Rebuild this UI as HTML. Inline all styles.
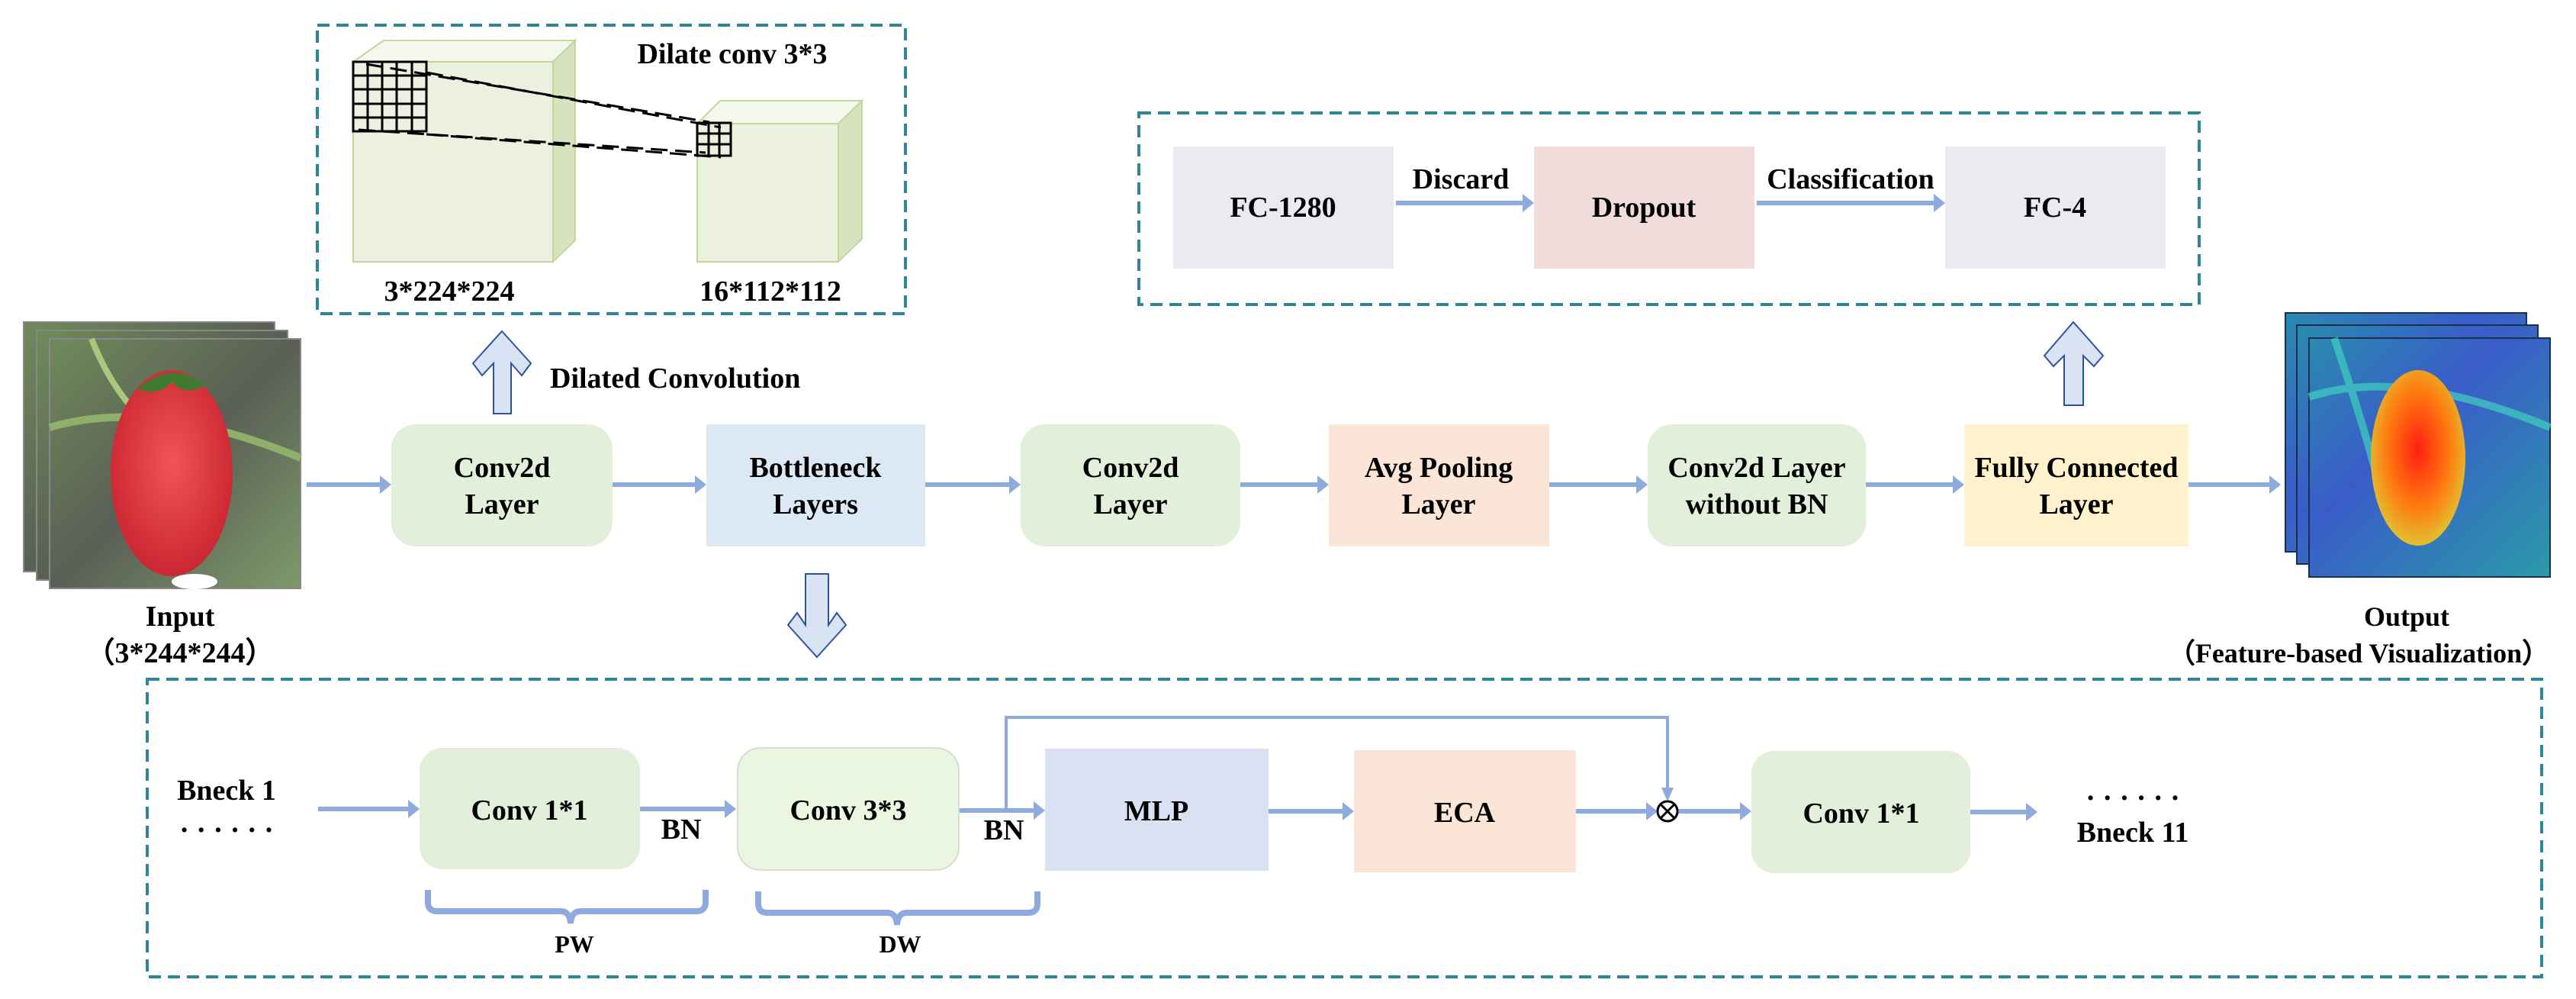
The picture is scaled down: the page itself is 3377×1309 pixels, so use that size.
<!DOCTYPE html>
<html><head><meta charset="utf-8"><style>
html,body{margin:0;padding:0;background:#fff}
svg{display:block}
text{font-family:"Liberation Serif",serif;font-weight:bold;fill:#000}
</style></head><body>
<svg width="3377" height="1309" viewBox="0 0 3377 1309" xmlns="http://www.w3.org/2000/svg">
<defs>
<linearGradient id="bg1" x1="0" y1="0" x2="1" y2="1"><stop offset="0" stop-color="#6f8a5a"/><stop offset="0.5" stop-color="#5a5f55"/><stop offset="1" stop-color="#7d9a6a"/></linearGradient>
<radialGradient id="sb" cx="0.5" cy="0.45" r="0.6"><stop offset="0" stop-color="#f0545a"/><stop offset="1" stop-color="#c8222e"/></radialGradient>
<linearGradient id="hb" x1="0" y1="0" x2="1" y2="1"><stop offset="0" stop-color="#2a8ab0"/><stop offset="0.4" stop-color="#3a5cc8"/><stop offset="1" stop-color="#2a9aa8"/></linearGradient>
<radialGradient id="hs" cx="0.5" cy="0.45" r="0.55"><stop offset="0" stop-color="#ff2010"/><stop offset="0.6" stop-color="#ff7a10"/><stop offset="1" stop-color="#e0c030"/></radialGradient>
</defs>

<g fill="none" stroke="#2e8596" stroke-width="4" stroke-dasharray="16,9">
<rect x="416" y="33" width="771" height="378"/>
<rect x="1493" y="148" width="1390" height="251"/>
<rect x="193" y="890" width="3139" height="390"/>
</g>

<!-- cubes -->
<g stroke="#c4d79b" stroke-width="2">
<polygon points="463,81 503,53 754,53 725,81" fill="#f3f7ec"/>
<polygon points="725,81 754,53 754,315 725,343" fill="#d6e3be"/>
<rect x="463" y="81" width="262" height="262" fill="#ebf1de"/>
<polygon points="914,162 944,132 1130,132 1099,162" fill="#f3f7ec"/>
<polygon points="1099,162 1130,132 1130,313 1099,343" fill="#d6e3be"/>
<rect x="914" y="162" width="185" height="181" fill="#ebf1de"/>
</g>
<g stroke="#000" stroke-width="3" fill="none">
<rect x="463" y="81" width="96" height="91"/>
<path d="M482 81V172M501 81V172M520 81V172M540 81V172M463 99H559M463 117H559M463 136H559M463 154H559"/>
<rect x="914" y="161" width="44" height="43"/>
<path d="M929 161V204M943 161V204M914 175H958M914 189H958"/>
</g>
<g stroke="#000" stroke-width="3" stroke-dasharray="22,10" fill="none">
<line x1="480" y1="84" x2="930" y2="160"/>
<line x1="559" y1="95" x2="945" y2="167"/>
<line x1="470" y1="170" x2="925" y2="200"/>
<line x1="559" y1="176" x2="945" y2="206"/>
</g>
<text x="960" y="83" font-size="38" text-anchor="middle">Dilate conv 3*3</text>
<text x="589" y="394" font-size="38" text-anchor="middle">3*224*224</text>
<text x="1010" y="394" font-size="38" text-anchor="middle">16*112*112</text>

<!-- block arrows -->
<g fill="#dae3f3" stroke="#2f52a0" stroke-width="2">
<polygon points="658,434 696,476 684,492 670,476 670,542 647,542 647,476 632,492 620,476"/>
<polygon points="1071,861 1109,819 1097,803 1086,819 1086,752 1056,752 1056,819 1045,803 1033,819"/>
<polygon points="2718,422 2757,466 2745,480 2731,466 2731,531 2706,531 2706,466 2692,480 2680,466"/>
</g>
<text x="721" y="508" font-size="38">Dilated Convolution</text>

<!-- input images -->
<g stroke="#888" stroke-width="2">
<rect x="31" y="422" width="329" height="327" fill="url(#bg1)"/>
<rect x="48" y="433" width="329" height="327" fill="url(#bg1)"/>
<rect x="65" y="444" width="329" height="327" fill="url(#bg1)"/>
</g>
<path d="M65 560 Q200 520 394 600" stroke="#8fb06a" stroke-width="10" fill="none"/>
<path d="M120 444 Q150 520 200 560" stroke="#a8c880" stroke-width="8" fill="none"/>
<ellipse cx="225" cy="620" rx="80" ry="135" fill="url(#sb)"/>
<path d="M180 510 Q225 470 270 505 Q240 520 225 500 Q210 520 180 510Z" fill="#3f7a30"/>
<ellipse cx="255" cy="762" rx="30" ry="10" fill="#fff"/>
<text x="236" y="820" font-size="38" text-anchor="middle">Input</text>
<text x="236" y="868" font-size="38" text-anchor="middle">（3*244*244）</text>

<!-- main row -->
<rect x="513" y="556" width="290" height="160" rx="32" fill="#e2efda"/>
<rect x="926" y="556" width="287" height="160" fill="#dde8f5"/>
<rect x="1338" y="556" width="288" height="160" rx="32" fill="#e2efda"/>
<rect x="1742" y="556" width="289" height="160" fill="#fbe5d6"/>
<rect x="2160" y="556" width="286" height="160" rx="32" fill="#e2efda"/>
<rect x="2575" y="556" width="294" height="160" fill="#fff2cc"/>
<g font-size="38" text-anchor="middle">
<text x="658" y="625">Conv2d</text><text x="658" y="673">Layer</text>
<text x="1069" y="625">Bottleneck</text><text x="1069" y="673">Layers</text>
<text x="1482" y="625">Conv2d</text><text x="1482" y="673">Layer</text>
<text x="1886" y="625">Avg Pooling</text><text x="1886" y="673">Layer</text>
<text x="2303" y="625">Conv2d Layer</text><text x="2303" y="673">without BN</text>
<text x="2722" y="625">Fully Connected</text><text x="2722" y="673">Layer</text>
</g>

<!-- FC box -->
<rect x="1538" y="192" width="289" height="160" fill="#eceaf1"/>
<rect x="2011" y="192" width="289" height="160" fill="#f0dcdb"/>
<rect x="2550" y="192" width="289" height="160" fill="#eceaf1"/>
<g font-size="38" text-anchor="middle">
<text x="1682" y="284">FC-1280</text>
<text x="2155" y="284">Dropout</text>
<text x="2694" y="284">FC-4</text>
<text x="1915" y="247">Discard</text>
<text x="2426" y="247">Classification</text>
</g>

<!-- thin arrows -->
<g stroke="#8faadc" stroke-width="6" fill="none">
<line x1="402" y1="635" x2="500" y2="635"/>
<line x1="803" y1="635" x2="913" y2="635"/>
<line x1="1213" y1="635" x2="1325" y2="635"/>
<line x1="1626" y1="635" x2="1729" y2="635"/>
<line x1="2031" y1="635" x2="2147" y2="635"/>
<line x1="2446" y1="635" x2="2562" y2="635"/>
<line x1="2869" y1="635" x2="2978" y2="635"/>
<line x1="1830" y1="266" x2="1998" y2="266"/>
<line x1="2303" y1="266" x2="2537" y2="266"/>
<line x1="417" y1="1060" x2="537" y2="1060"/>
<line x1="839" y1="1060" x2="952" y2="1060"/>
<line x1="1257" y1="1062" x2="1357" y2="1062"/>
<line x1="1663" y1="1063" x2="1762" y2="1063"/>
<line x1="2066" y1="1063" x2="2160" y2="1063"/>
<line x1="2199" y1="1063" x2="2283" y2="1063"/>
<line x1="2583" y1="1064" x2="2658" y2="1064"/>
</g>
<g stroke="#8faadc" stroke-width="4" fill="none">
<polyline points="1319,1062 1319,940 2186,940 2186,1035"/>
</g>
<g fill="#8faadc">
<polygon points="513,635 498,623 498,647"/>
<polygon points="926,635 911,623 911,647"/>
<polygon points="1338,635 1323,623 1323,647"/>
<polygon points="1742,635 1727,623 1727,647"/>
<polygon points="2160,635 2145,623 2145,647"/>
<polygon points="2575,635 2560,623 2560,647"/>
<polygon points="2990,635 2975,623 2975,647"/>
<polygon points="2011,266 1996,254 1996,278"/>
<polygon points="2550,266 2535,254 2535,278"/>
<polygon points="550,1060 535,1048 535,1072"/>
<polygon points="965,1060 950,1048 950,1072"/>
<polygon points="1370,1062 1355,1050 1355,1074"/>
<polygon points="1775,1063 1760,1051 1760,1075"/>
<polygon points="2173,1063 2158,1051 2158,1075"/>
<polygon points="2296,1063 2281,1051 2281,1075"/>
<polygon points="2671,1064 2656,1052 2656,1076"/>
<polygon points="2186,1050 2178,1032 2194,1032"/>
</g>

<!-- output images -->
<g stroke="#1a3050" stroke-width="2">
<rect x="2996" y="410" width="316" height="313" fill="url(#hb)"/>
<rect x="3011" y="426" width="316" height="313" fill="url(#hb)"/>
<rect x="3027" y="443" width="316" height="313" fill="url(#hb)"/>
</g>
<path d="M3027 520 Q3150 480 3343 560 M3060 443 Q3100 560 3120 640" stroke="#40d0c0" stroke-width="10" fill="none" opacity="0.7"/>
<ellipse cx="3170" cy="600" rx="62" ry="115" fill="url(#hs)"/>
<text x="3155" y="820" font-size="36" text-anchor="middle">Output</text>
<text x="3092" y="868" font-size="36" text-anchor="middle">（Feature-based Visualization）</text>

<!-- bottleneck detail -->
<rect x="550" y="980" width="289" height="159" rx="30" fill="#e2efda"/>
<rect x="967" y="980" width="290" height="160" rx="30" fill="#ebf6e1" stroke="#d8dcd0" stroke-width="2"/>
<rect x="1370" y="981" width="293" height="160" fill="#dae1f3"/>
<rect x="1775" y="983" width="291" height="160" fill="#fbe5d6"/>
<rect x="2296" y="984" width="287" height="160" rx="30" fill="#e2efda"/>
<g font-size="38" text-anchor="middle">
<text x="297" y="1048">Bneck 1</text>
<text x="297" y="1100">· · · · · ·</text>
<text x="694" y="1074">Conv 1*1</text>
<text x="1112" y="1074">Conv 3*3</text>
<text x="893" y="1099">BN</text>
<text x="1316" y="1100">BN</text>
<text x="1516" y="1075">MLP</text>
<text x="1920" y="1077">ECA</text>
<text x="2440" y="1078">Conv 1*1</text>
<text x="2796" y="1058">· · · · · ·</text>
<text x="2796" y="1103">Bneck 11</text>
<text x="753" y="1248" font-size="32">PW</text>
<text x="1180" y="1248" font-size="32">DW</text>
</g>
<circle cx="2186" cy="1063" r="13" fill="#fff" stroke="#000" stroke-width="3"/>
<path d="M2177 1054L2195 1072M2195 1054L2177 1072" stroke="#000" stroke-width="3"/>
<g stroke="#8faadc" stroke-width="8" fill="none">
<path d="M561 1166 V1182 Q561 1194 573 1194 H735 Q747 1194 748 1210 Q749 1194 761 1194 H913 Q925 1194 925 1182 V1166"/>
<path d="M994 1168 V1184 Q994 1196 1006 1196 H1163 Q1175 1196 1176 1212 Q1177 1196 1189 1196 H1348 Q1360 1196 1360 1184 V1168"/>
</g>
</svg>
</body></html>
